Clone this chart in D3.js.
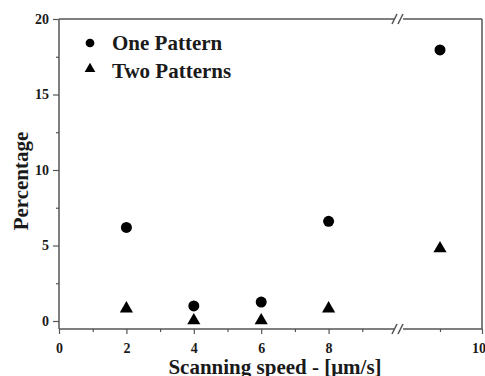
<!DOCTYPE html>
<html><head><meta charset="utf-8">
<script src="https://cdn.jsdelivr.net/npm/d3@7"></script>
<style>
body{margin:0;background:#fff}
svg{display:block}
svg text{font-family:"Liberation Serif","Tinos","Times New Roman",Times,serif;font-weight:bold;fill:#1a1a1a}
</style>
</head><body>
<svg id="c" width="485" height="376"></svg>
<script>
const speeds = [2, 4, 6, 8, 90];
const onePattern = [6.2, 1.0, 1.25, 6.6, 17.95];
const twoPatterns = [0.82, 0.03, 0.03, 0.82, 4.8];
const yTicks = [0, 5, 10, 15, 20];
const yMinor = [2.5, 7.5, 12.5, 17.5];
const xTicksLeft = [0, 2, 4, 6, 8];
const xMinorLeft = [1, 3, 5, 7, 9];
const xTicksRight = [100];
const xMinorRight = [90];
const seriesNames = ["One Pattern", "Two Patterns"];

const svg = d3.select("#c");
const axisColor = "#555";
const L = 59, R = 482, T = 19, B = 329;
const xL = d3.scaleLinear().domain([0, 10]).range([L, 396]);
const xR = d3.scaleLinear().domain([80, 100]).range([398, R]);
const x = v => v > 10 ? xR(v) : xL(v);
const y = d3.scaleLinear().domain([-0.53, 20]).range([B, T]);

const g = svg.append("g");
const line = (x1, y1, x2, y2) => g.append("line").attr("x1", x1).attr("y1", y1).attr("x2", x2).attr("y2", y2)
  .attr("stroke", axisColor).attr("stroke-width", 1.5);
line(L, T, L, B);
line(R, T, R, B);
[T, B].forEach(yy => {
  line(L, yy, 394, yy);
  line(403, yy, R, yy);
  line(392, yy + 5, 397, yy - 5);
  line(398, yy + 5, 403, yy - 5);
});

// y axis
const ya = svg.append("g").attr("transform", `translate(${L},0)`)
  .call(d3.axisLeft(y).tickValues(yTicks).tickSize(6).tickPadding(4).tickFormat(d3.format("d")));
ya.select(".domain").remove();
ya.selectAll("line").attr("stroke", axisColor).attr("stroke-width", 1.2);
ya.selectAll("text").attr("font-size", 14).attr("font-family", null).attr("fill", null);
const yMin = svg.append("g").attr("transform", `translate(${L},0)`)
  .call(d3.axisLeft(y).tickValues(yMinor).tickSize(3).tickFormat(""));
yMin.select(".domain").remove();
yMin.selectAll("line").attr("stroke", axisColor).attr("stroke-width", 1.2);

// x axis parts
function xAxisPart(scale, major, minor) {
  const a = svg.append("g").attr("transform", `translate(0,${B})`)
    .call(d3.axisBottom(scale).tickValues(major).tickSize(5).tickPadding(9).tickFormat(d3.format("d")));
  a.select(".domain").remove();
  a.selectAll("line").attr("stroke", axisColor).attr("stroke-width", 1.2);
  a.selectAll("text").attr("font-size", 14).attr("font-family", null).attr("fill", null);
  const m = svg.append("g").attr("transform", `translate(0,${B})`)
    .call(d3.axisBottom(scale).tickValues(minor).tickSize(3).tickFormat(""));
  m.select(".domain").remove();
  m.selectAll("line").attr("stroke", axisColor).attr("stroke-width", 1.2);
}
xAxisPart(xL, xTicksLeft, xMinorLeft);
xAxisPart(xR, xTicksRight, xMinorRight);

// axis titles
svg.append("text").attr("x", 275).attr("y", 374).attr("text-anchor", "middle")
  .attr("font-size", 21).text("Scanning speed - [μm/s]");
svg.append("text").attr("transform", "translate(28,181) rotate(-90)").attr("text-anchor", "middle")
  .attr("font-size", 21).text("Percentage");

// data
const circ = d3.symbol().type(d3.symbolCircle).size(95);
const tri = d3.symbol().type(d3.symbolTriangle).size(75);
svg.append("g").selectAll("path").data(speeds.map((s, i) => [s, onePattern[i]])).join("path")
  .attr("d", circ).attr("transform", d => `translate(${x(d[0])},${y(d[1])})`).attr("fill", "#000");
svg.append("g").selectAll("path").data(speeds.map((s, i) => [s, twoPatterns[i]])).join("path")
  .attr("d", tri).attr("transform", d => `translate(${x(d[0])},${y(d[1])})`).attr("fill", "#000");

// legend
const legSym = [d3.symbol().type(d3.symbolCircle).size(60), d3.symbol().type(d3.symbolTriangle).size(50)];
const leg = svg.append("g");
legSym.forEach((sym, i) => {
  leg.append("path").attr("d", sym).attr("transform", `translate(90,${43 + i * 26})`).attr("fill", "#000");
  leg.append("text").attr("x", 112).attr("y", 50 + i * 28)
    .attr("font-size", 21).text(seriesNames[i]);
});
</script>
</body></html>
